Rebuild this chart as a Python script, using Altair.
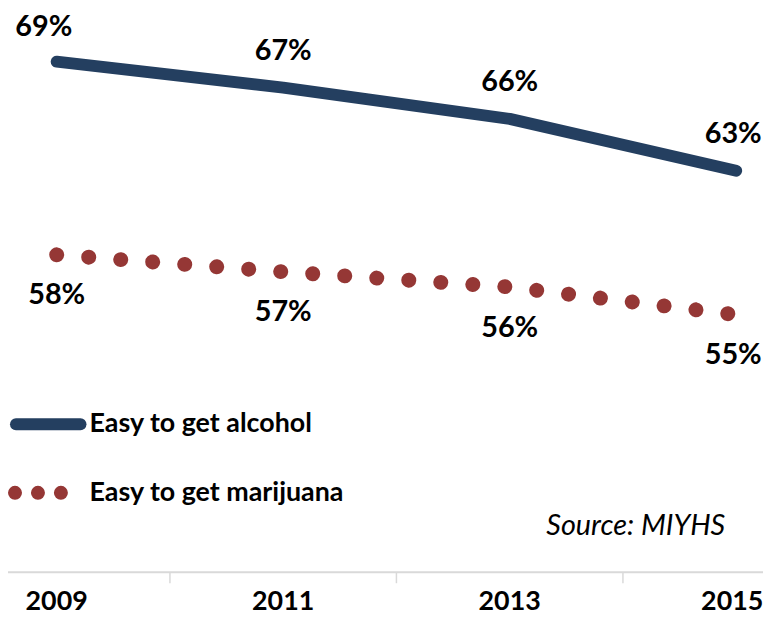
import altair as alt
import pandas as pd

years = ["2009", "2011", "2013", "2015"]
alcohol = [68.8, 67.35, 65.6, 62.7]
marijuana = [58.0, 57.05, 56.2, 54.65]
alcohol_labels = ["69%", "67%", "66%", "63%"]
marijuana_labels = ["58%", "57%", "56%", "55%"]
series_names = ["Easy to get alcohol", "Easy to get marijuana"]
source_text = "Source: MIYHS"

W, H = 760, 610
FONT = "Lato"
NAVY = "#243F60"
RED = "#953735"
GRID = "#D9D9D9"

idx = list(range(len(years)))
df_a = pd.DataFrame({"i": idx, "year": years, "v": alcohol, "lab": alcohol_labels})
df_m = pd.DataFrame({"i": idx, "year": years, "v": marijuana, "lab": marijuana_labels})
df_ticks = pd.DataFrame({"i": [k + 0.5 for k in idx[:-1]]})
df_years = pd.DataFrame({"i": idx, "year": years})

xs = alt.Scale(domain=[-0.2149, 3.1184], nice=False, zero=False)
ys = alt.Scale(domain=[37.8, 71.69], nice=False, zero=False)
X = alt.X("i:Q", scale=xs, axis=None)
Y = alt.Y("v:Q", scale=ys, axis=None)

line_a = alt.Chart(df_a).mark_line(color=NAVY, strokeWidth=12, strokeCap="round", strokeJoin="round").encode(x=X, y=Y)
line_m = alt.Chart(df_m).mark_line(color=RED, strokeWidth=15, strokeCap="round", strokeDash=[0.1, 32.2]).encode(x=X, y=Y)

LBL = dict(font=FONT, fontWeight="bold", fontSize=29, baseline="middle")
lab_a = alt.Chart(df_a[(df_a.i > 0) & (df_a.i < 3)]).mark_text(dy=-37, **LBL).encode(x=X, y=Y, text="lab:N")
lab_a0 = alt.Chart(df_a[df_a.i == 0]).mark_text(dy=-35, dx=-13, **LBL).encode(x=X, y=Y, text="lab:N")
lab_a3 = alt.Chart(df_a[df_a.i == 3]).mark_text(dy=-37, dx=-3, **LBL).encode(x=X, y=Y, text="lab:N")
lab_m = alt.Chart(df_m[df_m.i < 3]).mark_text(dy=41, **LBL).encode(x=X, y=Y, text="lab:N")
lab_m3 = alt.Chart(df_m[df_m.i == 3]).mark_text(dy=41, dx=-3, **LBL).encode(x=X, y=Y, text="lab:N")

axis_line = alt.Chart(pd.DataFrame({"a": [0]})).mark_rule(color=GRID, strokeWidth=2).encode(
    x=alt.value(0), x2=alt.value(W), y=alt.value(566))
ticks = alt.Chart(df_ticks).mark_rule(color=GRID, strokeWidth=1.5).encode(
    x=X, y=alt.value(566), y2=alt.value(577))
YT = dict(font=FONT, fontWeight="bold", fontSize=27, baseline="middle")
year_text = alt.Chart(df_years[df_years.i < 3]).mark_text(**YT).encode(
    x=X, y=alt.value(596), text="year:N")
year_text3 = alt.Chart(df_years[df_years.i == 3]).mark_text(dx=-4, **YT).encode(
    x=X, y=alt.value(596), text="year:N")

leg_df = pd.DataFrame({"name": series_names})
leg_line = alt.Chart(pd.DataFrame({"a": [0]})).mark_rule(color=NAVY, strokeWidth=12, strokeCap="round").encode(
    x=alt.value(8), x2=alt.value(73), y=alt.value(417))
leg_dots = alt.Chart(pd.DataFrame({"a": [0]})).mark_rule(color=RED, strokeWidth=14, strokeCap="round", strokeDash=[0.1, 23]).encode(
    x=alt.value(7), x2=alt.value(54), y=alt.value(486))
LEG = dict(font=FONT, fontWeight="bold", fontSize=27, align="left", baseline="middle")
leg_t1 = alt.Chart(leg_df.iloc[[0]]).mark_text(**LEG).encode(
    x=alt.value(82), y=alt.value(417), text="name:N")
leg_t2 = alt.Chart(leg_df.iloc[[1]]).mark_text(**LEG).encode(
    x=alt.value(82), y=alt.value(486), text="name:N")
src = alt.Chart(pd.DataFrame({"t": [source_text]})).mark_text(font=FONT, fontStyle="italic", fontSize=29, align="right", baseline="middle").encode(
    x=alt.value(722), y=alt.value(519), text="t:N")

chart = alt.layer(
    axis_line, ticks, line_m, line_a, lab_a, lab_a0, lab_a3, lab_m, lab_m3, year_text, year_text3,
    leg_line, leg_dots, leg_t1, leg_t2, src
).properties(
    width=W, height=H, autosize=alt.AutoSizeParams(type="none"), padding=0, background="white"
).configure_view(strokeWidth=0)

chart.save("out.html", embed_options={"renderer": "svg", "actions": False})
